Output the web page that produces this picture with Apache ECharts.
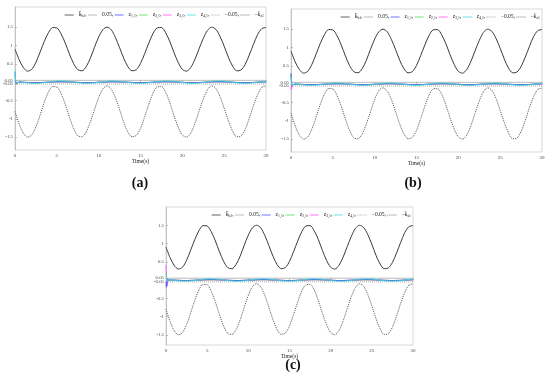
<!DOCTYPE html>
<html><head><meta charset="utf-8">
<script src="https://cdn.jsdelivr.net/npm/echarts@6/dist/echarts.min.js"></script>
<style>html,body{margin:0;padding:0;background:#fff}#c{width:550px;height:384px}</style>
</head><body><div id="c"></div>
<script>
// time samples for the bounds (s)
const tB = [0,0.5,1,1.5,2,2.5,3,3.5,4,4.5,5,5.5,6,6.5,7,7.5,8,8.5,9,9.5,10,10.5,11,11.5,12,12.5,13,13.5,14,14.5,15,15.5,16,16.5,17,17.5,18,18.5,19,19.5,20,20.5,21,21.5,22,22.5,23,23.5,24,24.5,25,25.5,26,26.5,27,27.5,28,28.5,29,29.5,30];
// upper bound k_b
const kb = [0.90,0.61,0.40,0.30,0.35,0.54,0.82,1.11,1.35,1.49,1.48,1.32,1.07,0.77,0.51,0.34,0.31,0.42,0.65,0.95,1.23,1.43,1.50,1.43,1.22,0.94,0.65,0.42,0.31,0.34,0.51,0.78,1.07,1.33,1.48,1.49,1.35,1.11,0.81,0.54,0.35,0.30,0.40,0.62,0.91,1.19,1.41,1.50,1.44,1.25,0.98,0.68,0.44,0.31,0.33,0.48,0.74,1.03,1.30,1.46,1.49];
// lower bound -k_a
const ka = [-0.80,-1.14,-1.39,-1.50,-1.44,-1.22,-0.90,-0.55,-0.27,-0.12,-0.13,-0.31,-0.60,-0.95,-1.26,-1.46,-1.49,-1.36,-1.09,-0.75,-0.42,-0.18,-0.10,-0.19,-0.42,-0.75,-1.09,-1.36,-1.49,-1.45,-1.26,-0.94,-0.60,-0.30,-0.13,-0.12,-0.27,-0.56,-0.91,-1.22,-1.44,-1.50,-1.39,-1.13,-0.79,-0.46,-0.21,-0.10,-0.17,-0.39,-0.71,-1.05,-1.33,-1.49,-1.47,-1.29,-0.99,-0.64,-0.34,-0.14,-0.11];
// early time samples for the tracking errors
const tHead = [0,0.05,0.1,0.15,0.2,0.3,0.4];
// steady part (t = 0.5 ... 30) of z_{4,1}
const z4Steady = [0.010,-0.007,-0.023,-0.033,-0.035,-0.028,-0.015,0.002,0.019,0.031,0.035,0.031,0.019,0.002,-0.015,-0.028,-0.035,-0.033,-0.023,-0.007,0.010,0.025,0.034,0.034,0.026,0.012,-0.005,-0.021,-0.032,-0.035,-0.029,-0.017,0.000,0.017,0.030,0.035,0.032,0.021,0.005,-0.012,-0.027,-0.034,-0.034,-0.025,-0.010,0.008,0.023,0.033,0.035,0.028,0.014,-0.003,-0.019,-0.031,-0.035,-0.031,-0.019,-0.002,0.015,0.028];
// steady part (t = 0.5 ... 30) of z_{1,1}, z_{2,1}, z_{3,1}
const zSteady = [0.004,-0.003,-0.009,-0.013,-0.014,-0.011,-0.006,0.001,0.008,0.012,0.014,0.012,0.008,0.001,-0.006,-0.011,-0.014,-0.013,-0.009,-0.003,0.004,0.010,0.014,0.014,0.010,0.005,-0.002,-0.008,-0.013,-0.014,-0.012,-0.007,0.000,0.007,0.012,0.014,0.013,0.008,0.002,-0.005,-0.011,-0.014,-0.014,-0.010,-0.004,0.003,0.009,0.013,0.014,0.011,0.006,-0.001,-0.008,-0.012,-0.014,-0.012,-0.008,-0.001,0.006,0.011];
// transients (t = 0 ... 0.4) per subplot
const a_z11 = [0.28,0.10,-0.01,-0.04,-0.03,-0.02,-0.01];
const a_z21 = [0.18,0.06,-0.02,-0.04,-0.03,-0.02,-0.01];
const a_z31 = [0.06,0.02,-0.02,-0.03,-0.02,-0.01,0.00];
const a_z41 = [0.32,0.14,0.03,-0.02,-0.03,-0.01,0.005];
const b_z11 = [0.30,0.12,0.00,-0.04,-0.03,-0.01,0.00];
const b_z21 = [0.26,0.08,-0.02,-0.04,-0.03,-0.01,0.00];
const b_z31 = [-0.05,-0.15,-0.10,-0.05,-0.03,-0.01,0.00];
const b_z41 = [0.20,0.06,-0.02,-0.04,-0.03,-0.01,0.005];
const c_z11 = [-0.05,-0.20,-0.12,-0.03,0.02,0.01,0.00];
const c_z21 = [0.20,0.10,0.00,-0.03,-0.02,-0.01,0.00];
const c_z31 = [0.40,0.20,-0.10,-0.16,-0.06,0.00,0.005];
const c_z41 = [0.08,0.03,-0.03,-0.04,-0.02,-0.01,0.005];
const band = 0.05;
const xTicks = [0,5,10,15,20,25,30];
const yTicks = [-1.5,-1,-0.5,-0.05,0.05,0.5,1,1.5];
const panelLabels = ['(a)','(b)','(c)'];

const tZ = tHead.concat(tB.slice(1));
const pairs = (ts, vs) => ts.map((t,i)=>[t, vs[i]]);

const panels = [
  {grid:{left:15,top:7,width:251,height:143}, ymin:-1.85, ymax:2.05, leg:{right:286,top:12}, lab:[140,183],
   z:[a_z11,a_z21,a_z31,a_z41]},
  {grid:{left:291,top:9,width:251,height:143}, ymin:-1.85, ymax:2.05, leg:{right:10,top:14}, lab:[413,183],
   z:[b_z11,b_z21,b_z31,b_z41]},
  {grid:{left:166,top:207,width:247,height:138}, ymin:-1.78, ymax:2.0, leg:{right:139,top:212}, lab:[293,365],
   z:[c_z11,c_z21,c_z31,c_z41]}
];

const names = ['kb','p05','z11','z21','z31','z41','m05','ka'];
const legendText = {
  kb:'{t|k\u0304}{s|b1}{t|,}', p05:'{t|0.05,}', z11:'{t|z}{s|1,1}{t|,}', z21:'{t|z}{s|2,1}{t|,}',
  z31:'{t|z}{s|3,1}{t|,}', z41:'{t|z}{s|4,1}{t|,}', m05:'{t|\u22120.05,}', ka:'{t|\u2212k\u0304}{s|a1}'
};
const zColors = ['#5050ff','#50e050','#ff50ff','#40dede'];
const serif = 'Liberation Serif';

const option = {
  animation:false, backgroundColor:'#fff',
  grid:[], xAxis:[], yAxis:[], series:[], legend:[], graphic:[]
};

panels.forEach((p, k) => {
  option.grid.push(Object.assign({show:true, borderColor:'#c8c8c8', borderWidth:0.7, containLabel:false}, p.grid));
  option.xAxis.push({
    type:'value', gridIndex:k, min:0, max:30, interval:5,
    name:'Time(s)', nameLocation:'middle', nameGap:8,
    nameTextStyle:{fontSize:5.5, fontFamily:serif, color:'#222'},
    axisLine:{lineStyle:{color:'#b0b0b0', width:0.7}},
    axisTick:{inside:true, length:2, lineStyle:{color:'#999', width:0.6}, customValues:xTicks},
    axisLabel:{fontSize:5, fontFamily:serif, color:'#444', margin:3, customValues:xTicks},
    splitLine:{show:false}
  });
  option.yAxis.push({
    type:'value', gridIndex:k, min:p.ymin, max:p.ymax,
    axisLine:{show:true, lineStyle:{color:'#b0b0b0', width:0.7}},
    axisTick:{show:true, inside:true, length:2, lineStyle:{color:'#999', width:0.6}, customValues:yTicks},
    axisLabel:{fontSize:4.8, fontFamily:serif, color:'#444', margin:2, customValues:yTicks,
      formatter:v=>String(v)},
    splitLine:{show:false}
  });
  const base = {type:'line', xAxisIndex:k, yAxisIndex:k, symbol:'none', legendIcon:'none', smooth:false, silent:true};
  option.series.push(Object.assign({}, base, {name:'kb', data:pairs(tB,kb), smooth:0.3,
    lineStyle:{color:'#3a3a3a', width:1}, itemStyle:{color:'#3a3a3a'}}));
  option.series.push(Object.assign({}, base, {name:'p05', data:[[0,band],[30,band]],
    lineStyle:{color:'#a8a8a8', width:0.8}, itemStyle:{color:'#a8a8a8'}}));
  option.series.push(Object.assign({}, base, {name:'m05', data:[[0,-band],[30,-band]],
    lineStyle:{color:'#9a9a9a', width:0.8, type:[1,1]}, itemStyle:{color:'#9a9a9a'}}));
  option.series.push(Object.assign({}, base, {name:'ka', data:pairs(tB,ka), smooth:0.3,
    lineStyle:{color:'#555', width:1, type:[1,1]}, itemStyle:{color:'#555'}}));
  [2,1,0,3].forEach(j => {
    const nm = names[2+j];
    option.series.push(Object.assign({}, base, {name:nm, data:pairs(tZ, p.z[j].concat(j===3?z4Steady:zSteady)),
      smooth:0.2, lineStyle:{color:zColors[j], width:0.9}, itemStyle:{color:zColors[j]}}));
  });
  option.legend.push(Object.assign({
    data:names, top:p.leg.top, orient:'horizontal', width:260,
    itemWidth:9, itemHeight:5, itemGap:1, padding:0, selectedMode:false,
    itemStyle:{opacity:0}, lineStyle:{width:0.8},
    formatter:n=>legendText[n],
    textStyle:{fontSize:5.6, fontFamily:serif, color:'#222',
      rich:{t:{fontSize:5.6, fontFamily:serif, color:'#222'}, s:{fontSize:3.8, fontFamily:serif, color:'#222', padding:[3,0,0,0]}}}
  }, {right:p.leg.right}));
  option.graphic.push({type:'text', x:p.lab[0], y:p.lab[1],
    style:{text:panelLabels[k], font:'bold 14px "Liberation Serif"', fill:'#111', textAlign:'center', textVerticalAlign:'middle'}});
});

const chart = echarts.init(document.getElementById('c'), null, {renderer:'canvas'});
chart.setOption(option);
</script></body></html>
